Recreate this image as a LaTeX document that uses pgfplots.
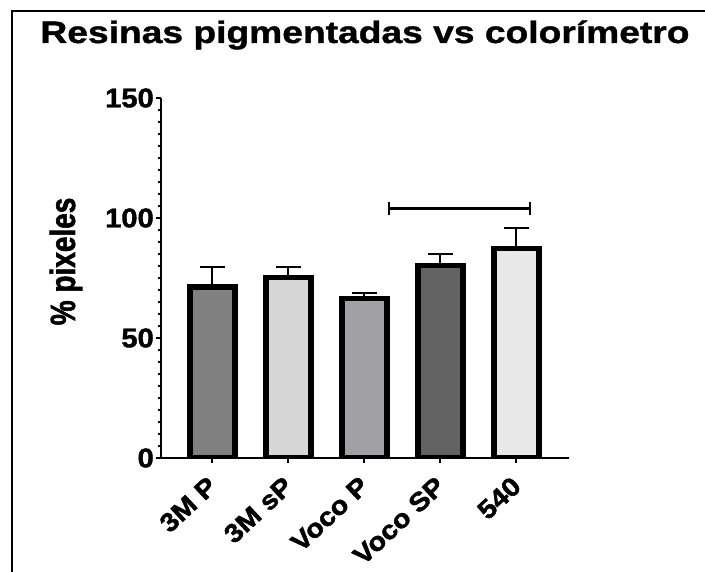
\documentclass[border=0pt]{standalone}
\usepackage{fontspec}
\setmainfont{Liberation Sans}
\newfontfamily\titlefont{Liberation Sans}[FakeStretch=1.2, BoldFeatures={FakeBold=1.2}]
\newfontfamily\tickfont{Liberation Sans}[FakeStretch=1.08, BoldFeatures={FakeBold=1.5}]
\newfontfamily\xtickfont{Liberation Sans}[FakeStretch=1.1, BoldFeatures={FakeBold=1.8}]
\newfontfamily\labfont{Liberation Sans}[FakeStretch=0.8, BoldFeatures={FakeBold=1.6}]
\usepackage{pgfplots}
\pgfplotsset{compat=1.18}
\definecolor{cA}{RGB}{128,128,128}
\definecolor{cB}{RGB}{214,214,214}
\definecolor{cC}{RGB}{161,160,165}
\definecolor{cD}{RGB}{98,98,98}
\definecolor{cE}{RGB}{232,232,232}
\begin{document}
\begin{tikzpicture}
\useasboundingbox (0,0) rectangle (705pt,572pt);
\draw[line width=2pt] (12pt,0pt) -- (12pt,561pt) -- (706pt,561pt);
\node[anchor=base, inner sep=0pt] at (365pt,529pt) {\titlefont\bfseries\fontsize{31}{33}\selectfont Resinas pigmentadas vs colorímetro};
\begin{axis}[
  at={(161pt,114pt)}, anchor=south west,
  scale only axis, width=408pt, height=360pt,
  xmin=-0.675, xmax=4.693, ymin=0, ymax=150,
  axis lines=left, axis line style={-, line width=2pt},
  tick align=outside, tick style={black, line width=2pt},
  major tick length=5pt, minor tick length=3pt,
  ytick={0,50,100,150}, minor y tick num=9,
  xtick={0,1,2,3,4},
  xticklabels={3M P, 3M sP, Voco P, Voco SP, 540},
  /pgf/number format/assume math mode=true,
  yticklabel style={font=\tickfont\bfseries\fontsize{27}{27}\selectfont, inner sep=2pt},
  xticklabel style={font=\xtickfont\bfseries\fontsize{26}{26}\selectfont, yshift=-9pt, xshift=-6pt, rotate=43, anchor=north east, inner sep=2pt},
  ylabel={\% pixeles},
  ylabel style={font=\labfont\bfseries\fontsize{35}{35}\selectfont, at={(axis description cs:-0.233,0.546)}, anchor=center},
  bar width=45pt,
  every axis plot/.append style={line width=5.5pt},
]
\addplot[ybar, bar shift=0pt, fill=cA, draw=black, error bars/.cd, y dir=plus, y explicit, error bar style={line width=2pt}, error mark options={rotate=90, mark size=12.5pt, line width=2pt}] coordinates {(0,71.3) +- (0,8.4)};
\addplot[ybar, bar shift=0pt, fill=cB, draw=black, error bars/.cd, y dir=plus, y explicit, error bar style={line width=2pt}, error mark options={rotate=90, mark size=12.5pt, line width=2pt}] coordinates {(1,75.2) +- (0,4.2)};
\addplot[ybar, bar shift=0pt, fill=cC, draw=black, error bars/.cd, y dir=plus, y explicit, error bar style={line width=2pt}, error mark options={rotate=90, mark size=12.5pt, line width=2pt}] coordinates {(2,66.5) +- (0,2.2)};
\addplot[ybar, bar shift=0pt, fill=cD, draw=black, error bars/.cd, y dir=plus, y explicit, error bar style={line width=2pt}, error mark options={rotate=90, mark size=12.5pt, line width=2pt}] coordinates {(3,80.2) +- (0,4.8)};
\addplot[ybar, bar shift=0pt, fill=cE, draw=black, error bars/.cd, y dir=plus, y explicit, error bar style={line width=2pt}, error mark options={rotate=90, mark size=12.5pt, line width=2pt}] coordinates {(4,87.3) +- (0,8.4)};
\addplot[black, line width=2.5pt, no marks] coordinates {(2.325,104) (4.18,104)};
\addplot[black, line width=2.5pt, no marks] coordinates {(2.325,101.2) (2.325,106.8)};
\addplot[black, line width=2.5pt, no marks] coordinates {(4.18,101.2) (4.18,106.8)};
\end{axis}
\end{tikzpicture}
\end{document}
